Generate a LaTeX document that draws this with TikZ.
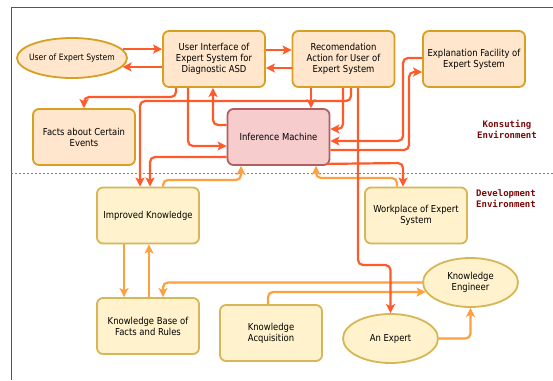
\documentclass[tikz,border=0pt]{standalone}
\usepackage{fontspec}
\setmainfont{DejaVu Sans}[FakeStretch=0.88]
\newfontfamily\labelfont{DejaVu Sans Mono}
\usetikzlibrary{arrows.meta,shapes.geometric,calc}
\definecolor{cTopF}{HTML}{FFE6CC}
\definecolor{cTopD}{HTML}{D8A020}
\definecolor{cBotF}{HTML}{FFF2CC}
\definecolor{cBotD}{HTML}{D6B656}
\definecolor{cImF}{HTML}{F6CCCC}
\definecolor{cImD}{HTML}{B06060}
\definecolor{cRed}{HTML}{FF5A2A}
\definecolor{cOr}{HTML}{FFA040}
\definecolor{cLbl}{HTML}{7B0A0A}
\definecolor{cFrame}{HTML}{555555}
\begin{document}
\begin{tikzpicture}[x=1pt,y=-1pt,
  every node/.style={font=\fontsize{9.6}{11}\selectfont, align=center},
  boxbase/.style={rounded corners=6pt, line width=1.8pt, minimum width=102pt, minimum height=56pt, inner sep=1pt},
  topbox/.style={boxbase, draw=cTopD, fill=cTopF},
  botbox/.style={boxbase, draw=cBotD, fill=cBotF},
  imbox/.style={boxbase, draw=cImD, fill=cImF},
  ellbase/.style={ellipse, line width=1.8pt, inner sep=0pt, minimum width=95pt, minimum height=49pt},
  topell/.style={ellbase, draw=cTopD, fill=cTopF},
  botell/.style={ellbase, draw=cBotD, fill=cBotF},
  lbl/.style={inner sep=0pt},
  edgebase/.style={line width=2.2pt, rounded corners=5pt, -{Stealth[length=9pt,width=9pt,inset=2pt]}},
  redarr/.style={edgebase, draw=cRed},
  orarr/.style={edgebase, draw=cOr},
  envlbl/.style={font=\labelfont\bfseries\fontsize{9}{11}\selectfont, text=cLbl, inner sep=0pt}
]
\useasboundingbox (0,0) rectangle (553,380);
\fill[white] (0,0) rectangle (553,380);
\draw[cFrame, line width=1pt] (11,380) -- (11,7) -- (553,7);
\draw[gray, line width=1pt, dash pattern=on 2pt off 2pt] (11,173) -- (553,173);

% nodes
\node[topell, minimum width=110pt, minimum height=40pt,
      label={[lbl, font=\fontsize{8.7}{10}\selectfont]center:User of Expert System}] (user) at (72,58) {};
\node[topbox] (ui) at (214,59) {User Interface of\\Expert System for\\Diagnostic ASD};
\node[topbox] (rec) at (343.5,59) {Recomendation\\Action for User of\\Expert System};
\node[topbox] (expl) at (474,59) {Explanation Facility of\\Expert System};
\node[topbox] (facts) at (84,137) {Facts about Certain\\Events};
\node[imbox] (im) at (278.5,137) {Inference Machine};
\node[botbox] (ik) at (148,215.5) {Improved Knowledge};
\node[botbox] (wp) at (416,215.5) {Workplace of Expert\\System};
\node[botbox] (kb) at (148,326) {Knowledge Base of\\Facts and Rules};
\node[botbox] (ka) at (271,333) {Knowledge\\Acquisition};
\node[botell, label={[lbl]center:An Expert}] (ae) at (390.5,338.5) {};
\node[botell, label={[lbl]center:Knowledge\\Engineer}] (ke) at (470.5,282.5) {};

\node[envlbl] (konsult) at (507,129) {Konsuting\\Environment};
\node[envlbl] (devel) at (506,199) {Development\\Environment};

% orange connectors (drawn first)
\draw[orarr] (ik.north -| 163,0) -- (163,180) -- (241,180) -- (im.south -| 241,0);
\draw[orarr] (wp.north -| 397,0) -- (397,178) -- (316,178) -- (im.south -| 316,0);
\draw[orarr] (ik.south -| 124,0) -- (kb.north -| 124,0);
\draw[orarr] (kb.north -| 149,0) -- (ik.south -| 149,0);
\draw[orarr] (ke.west) -- (ke.west -| 163,0) -- (kb.north -| 163,0);
\draw[orarr] (ka.north -| 268,0) |- (ke.192);
\draw[orarr] (ae.east) -| (ke.south);

% red connectors
\draw[redarr] (user.10) -- (user.10 -| ui.west);
\draw[redarr] (user.-10 -| ui.west) -- (user.-10);
\draw[redarr] (ui.east |- 0,50) -- (rec.west |- 0,50);
\draw[redarr] (rec.west |- 0,68) -- (ui.east |- 0,68);
\draw[redarr] (ui.south -| 176,0) -- (176,97) -- (84,97) -- (facts.north -| 84,0);
\draw[redarr] (rec.south -| 351,0) -- (351,101) -- (140,101) -- (ik.north -| 140,0);
\draw[redarr] (rec.south -| 311,0) -- (im.north -| 311,0);
\draw[redarr] (rec.south -| 343,0) -- (343,129) -- (im.east |- 0,129);
\draw[redarr] (rec.south -| 358,0) -- (358,265) -- (390.5,265) -- (ae.north);
\draw[redarr] (ui.south -| 188,0) -- (188,146) -- (im.west |- 0,146);
\draw[redarr] (im.west |- 0,125) -- (213,125) -- (ui.south -| 213,0);
\draw[redarr] (im.west |- 0,157) -- (150,157) -- (ik.north -| 150,0);
\draw[redarr] (expl.west |- 0,58) -- (403,58) -- (403,141) -- (im.east |- 0,141);
\draw[redarr] (im.east |- 0,150) -- (409,150) -- (409,72) -- (expl.west |- 0,72);
\draw[redarr] ($(im.south east)+(-4,-2)$) -- (403,163) -- (wp.north -| 403,0);
\end{tikzpicture}
\end{document}
